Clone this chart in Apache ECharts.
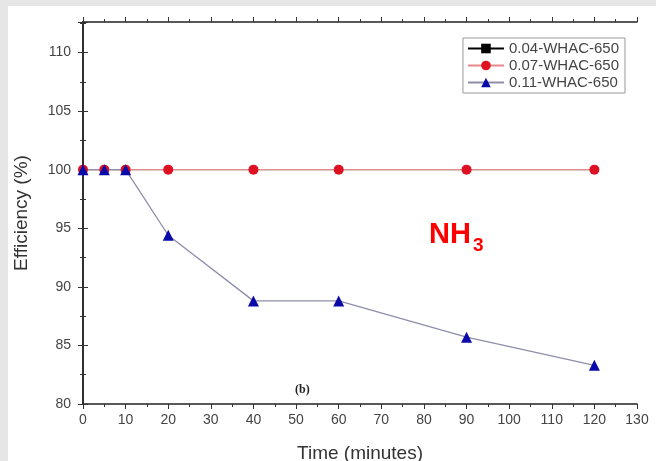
<!DOCTYPE html>
<html>
<head>
<meta charset="utf-8">
<script src="https://cdn.jsdelivr.net/npm/echarts@6/dist/echarts.min.js"></script>
<style>
  html, body { margin: 0; padding: 0; background: #e6e6e6; }
  #main {
    position: absolute;
    left: 8px;
    top: 6px;
    width: 648px;
    height: 455px;
    background-color: #fff;
  }
</style>
</head>
<body>
<div id="main"></div>
<script>
// data
var times = [0, 5, 10, 20, 40, 60, 90, 120];
var eff004 = [100, 100, 100, 100, 100, 100, 100, 100];
var eff007 = [100, 100, 100, 100, 100, 100, 100, 100];
var eff011 = [100, 100, 100, 94.4, 88.8, 88.8, 85.7, 83.3];
var seriesNames = ["0.04-WHAC-650", "0.07-WHAC-650", "0.11-WHAC-650"];

function pairs(xs, ys) {
  return xs.map(function (x, i) { return [x, ys[i]]; });
}

var myChart = echarts.init(document.getElementById("main"));

var labelFont = { color: "#444", fontFamily: "Liberation Sans, Arial", fontSize: 14 };

myChart.setOption({
  animation: false,
  grid: { left: 75, right: 19, top: 16, bottom: 57, containLabel: false, outerBoundsMode: "none" },
  legend: {
    orient: "vertical",
    right: 31,
    top: 32,
    padding: [3, 6, 3, 4],
    itemGap: 2,
    itemWidth: 36,
    itemHeight: 12,
    borderColor: "#999",
    borderWidth: 1,
    textStyle: { color: "#444", fontFamily: "Liberation Sans, Arial", fontSize: 15 },
    data: seriesNames,
  },
  xAxis: [
    {
      type: "value",
      min: 0,
      max: 130,
      interval: 10,
      name: "Time (minutes)",
      nameLocation: "middle",
      nameGap: 40,
      nameTextStyle: { color: "#333", fontFamily: "Liberation Sans, Arial", fontSize: 19 },
      axisLine: { lineStyle: { color: "#222", width: 1.5 } },
      axisTick: { inside: false, length: 5, lineStyle: { color: "#333" } },
      minorTick: { show: true, splitNumber: 2, length: 3, lineStyle: { color: "#333" } },
      axisLabel: Object.assign({ margin: 9 }, labelFont),
      splitLine: { show: false },
    },
    {
      type: "value",
      position: "top",
      min: 0,
      max: 130,
      interval: 10,
      axisLine: { show: true, lineStyle: { color: "#222", width: 1.5 } },
      axisTick: { show: true, length: 5, lineStyle: { color: "#333" } },
      minorTick: { show: true, splitNumber: 2, length: 3, lineStyle: { color: "#333" } },
      axisLabel: { show: false },
      splitLine: { show: false },
    },
  ],
  yAxis: [
    {
      type: "value",
      min: 80,
      max: 112.6,
      interval: 5,
      name: "Efficiency (%)",
      nameLocation: "middle",
      nameGap: 52,
      nameTextStyle: { color: "#333", fontFamily: "Liberation Sans, Arial", fontSize: 19 },
      axisLine: { show: true, lineStyle: { color: "#222", width: 1.5 } },
      axisTick: { show: true, length: 5, lineStyle: { color: "#333" } },
      minorTick: { show: true, splitNumber: 2, length: 3, lineStyle: { color: "#333" } },
      axisLabel: Object.assign({
        margin: 12,
        formatter: function (v) { return v > 112 ? "" : v; },
      }, labelFont),
      splitLine: { show: false },
    },
    {
      type: "value",
      position: "right",
      min: 80,
      max: 112.6,
      interval: 5,
      axisLine: { show: true, lineStyle: { color: "#222", width: 1.5 } },
      axisTick: { show: true, length: 5, lineStyle: { color: "#333" } },
      minorTick: { show: true, splitNumber: 2, length: 3, lineStyle: { color: "#333" } },
      axisLabel: { show: false },
      splitLine: { show: false },
    },
  ],
  graphic: [
    {
      type: "text",
      left: 287,
      top: 378,
      style: { text: "(b)", font: "bold 12px 'Liberation Serif', serif", fill: "#222" },
    },
    {
      type: "text",
      left: 421,
      top: 214,
      style: { text: "NH", font: "bold 29px 'Liberation Sans', Arial", fill: "#ff0000" },
    },
    {
      type: "text",
      left: 465,
      top: 230,
      style: { text: "3", font: "bold 19px 'Liberation Sans', Arial", fill: "#ff0000" },
    },
  ],
  series: [
    {
      name: seriesNames[0],
      type: "line",
      data: pairs(times, eff004),
      symbol: "rect",
      symbolSize: 6,
      itemStyle: { color: "#000" },
      lineStyle: { color: "#000", width: 1 },
    },
    {
      name: seriesNames[1],
      type: "line",
      data: pairs(times, eff007),
      symbol: "circle",
      symbolSize: 10,
      itemStyle: { color: "#dd1122" },
      lineStyle: { color: "#e58a8a", width: 1.2 },
    },
    {
      name: seriesNames[2],
      type: "line",
      data: pairs(times, eff011),
      symbol: "triangle",
      symbolSize: 11,
      itemStyle: { color: "#0a0aa8" },
      lineStyle: { color: "#8e8eaa", width: 1.3 },
    },
  ],
});
</script>
</body>
</html>
